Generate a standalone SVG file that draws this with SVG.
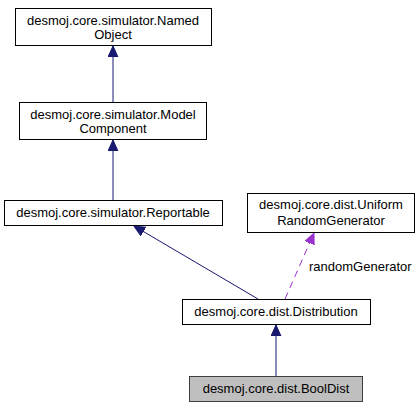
<svg xmlns="http://www.w3.org/2000/svg" width="420" height="408" viewBox="0 0 420 408">
<style>
.n rect{fill:#fff;stroke:#000;stroke-width:1}
.n.cur rect{fill:#bfbfbf;stroke:#404040}
text{font-family:"Liberation Sans",Arial,sans-serif;font-size:13px;fill:#000;text-anchor:middle}
.e{fill:none;stroke:#191970;stroke-width:1}
.u{fill:none;stroke:#9a32cd;stroke-width:1;stroke-dasharray:7,5}
</style>
<defs>
<marker id="ah" markerUnits="userSpaceOnUse" markerWidth="12" markerHeight="11" refX="11" refY="5" orient="auto">
<path d="M0,0 L11,5 L0,10 z" fill="#191970" stroke="#191970" stroke-width="1"/>
</marker>
<marker id="ap" markerUnits="userSpaceOnUse" markerWidth="12" markerHeight="11" refX="11" refY="5" orient="auto">
<path d="M0,0 L11,5 L0,10 z" fill="#9a32cd" stroke="#9a32cd" stroke-width="1"/>
</marker>
</defs>
<g id="connectors">
<line class="e" x1="113" y1="102" x2="113" y2="46" marker-end="url(#ah)"/>
<line class="e" x1="113" y1="200" x2="113" y2="140" marker-end="url(#ah)"/>
<line class="e" x1="258" y1="299" x2="134" y2="226" marker-end="url(#ah)"/>
<line class="e" x1="276" y1="376" x2="276" y2="325" marker-end="url(#ah)"/>
<line class="u" x1="285" y1="299" x2="314" y2="233" marker-end="url(#ap)"/>
<text x="309" y="271" style="text-anchor:start">randomGenerator</text>
</g>
<g id="NamedObject" class="n">
<rect x="15.5" y="8.5" width="196" height="37"/>
<text x="113" y="25">desmoj.core.simulator.Named</text>
<text x="113" y="39">Object</text>
</g>
<g id="ModelComponent" class="n">
<rect x="19.5" y="102.5" width="187" height="37"/>
<text x="113" y="119">desmoj.core.simulator.Model</text>
<text x="113" y="133">Component</text>
</g>
<g id="Reportable" class="n">
<rect x="4.5" y="200.5" width="218" height="25"/>
<text x="113" y="217">desmoj.core.simulator.Reportable</text>
</g>
<g id="UniformRandomGenerator" class="n">
<rect x="247.5" y="193.5" width="167" height="39"/>
<text x="331" y="209">desmoj.core.dist.Uniform</text>
<text x="331" y="225">RandomGenerator</text>
</g>
<g id="Distribution" class="n">
<rect x="182.5" y="299.5" width="188" height="25"/>
<text x="276" y="316">desmoj.core.dist.Distribution</text>
</g>
<g id="BoolDist" class="n cur">
<rect x="189.5" y="376.5" width="173" height="25"/>
<text x="276" y="393">desmoj.core.dist.BoolDist</text>
</g>
</svg>
